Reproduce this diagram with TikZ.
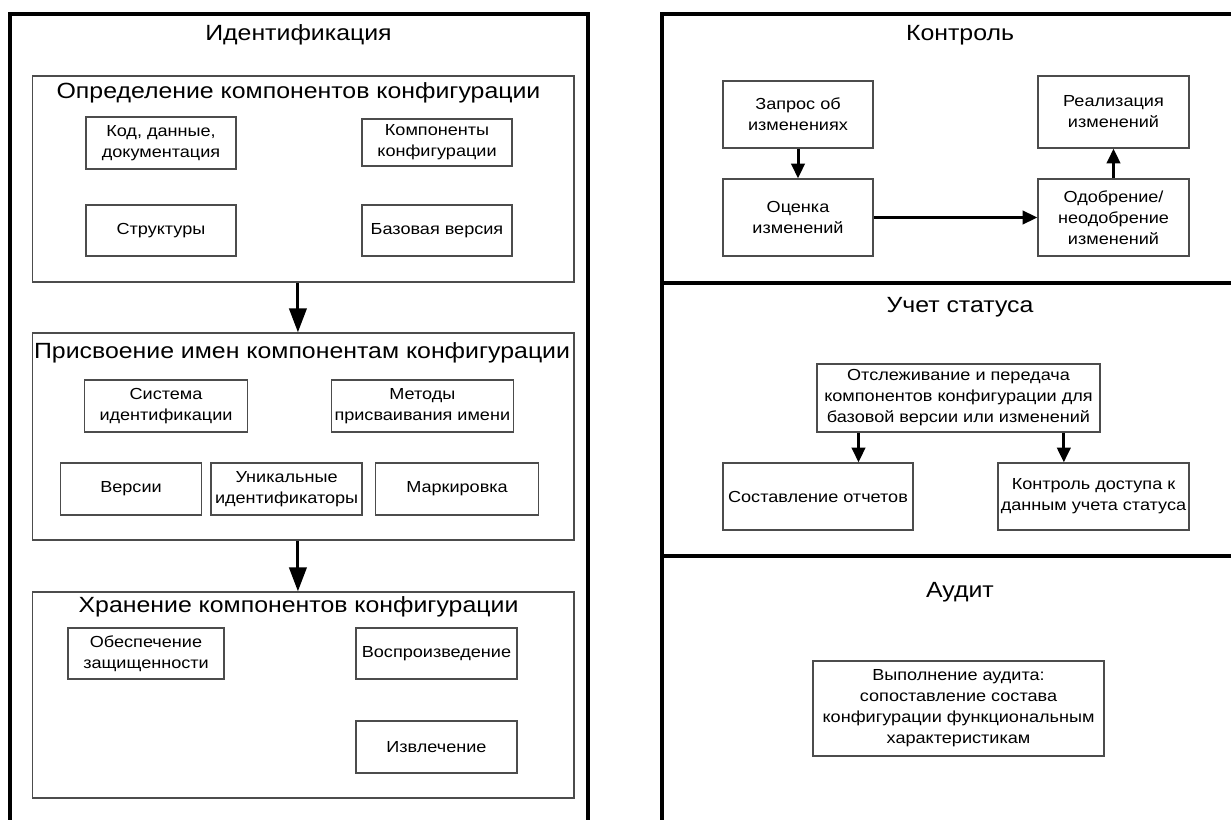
\documentclass[tikz,border=0pt]{standalone}
\usepackage{fontspec}
\setmainfont{Liberation Sans}[FakeStretch=1.13]
\usetikzlibrary{arrows.meta}

\begin{document}
\begin{tikzpicture}[x=0.75pt,y=0.75pt,yscale=-1,xscale=1,
	frame/.style={line width=2.5pt},
	group/.style={draw=black!70,line width=1pt,minimum width=406pt,minimum height=154.5pt},
	box/.style={draw=black!70,line width=1pt,align=center,inner sep=1pt,font=\fontsize{12}{15.75}\selectfont},
	head/.style={inner sep=0.75pt,font=\fontsize{16.5}{20}\selectfont},
	bigarrow/.style={line width=2.25pt,-{Triangle[length=18pt,width=13pt]}},
	arrow/.style={line width=2.25pt,-{Triangle[length=11pt,width=10pt]}}]
\useasboundingbox (0,0) rectangle (1231,820);

%Shape: Frames
	\draw [frame] (10,820) -- (10,14) -- (588,14) -- (588,820) ;
	\draw [frame] (662,820) -- (662,14) -- (1231,14) ;
	\draw [frame] (662,283) -- (1231,283) ;
	\draw [frame] (662,556) -- (1231,556) ;

% Identification
	\node [head] (ident) at (298.5,35) {Идентификация};
	\node [group] (defbox) at (303.25,179) {};
	\node [head] (deftitle) at (298.5,93) {Определение компонентов конфигурации};
	\node [box,minimum width=112.5pt,minimum height=39pt] (code) at (161,143) {Код, данные,\\документация};
	\node [box,minimum width=112.5pt,minimum height=35.25pt] (items) at (437,142.5) {Компоненты\\конфигурации};
	\node [box,minimum width=112.5pt,minimum height=38.25pt] (struct) at (161,230.5) {Структуры};
	\node [box,minimum width=112.5pt,minimum height=38.25pt] (baseline) at (437,230.5) {Базовая версия};

	\node [group,minimum height=155.25pt] (namebox) at (303.25,436.5) {};
	\node [head] (nametitle) at (302,353) {Присвоение имен компонентам конфигурации};
	\node [box,minimum width=122.25pt,minimum height=39pt] (idsys) at (166,406) {Система\\идентификации};
	\node [box,minimum width=136.5pt,minimum height=39pt] (naming) at (422.3,406) {Методы\\присваивания имени};
	\node [box,minimum width=105.75pt,minimum height=39pt] (versions) at (131,489) {Версии};
	\node [box,minimum width=113.25pt,minimum height=39pt] (uids) at (286.6,489) {Уникальные\\идентификаторы};
	\node [box,minimum width=122.25pt,minimum height=39pt] (marking) at (457,489) {Маркировка};

	\node [group] (storebox) at (303.25,695) {};
	\node [head] (storetitle) at (298.5,607) {Хранение компонентов конфигурации};
	\node [box,minimum width=117pt,minimum height=38.25pt] (security) at (146,653.5) {Обеспечение\\защищенности};
	\node [box,minimum width=120.75pt,minimum height=38.25pt] (repro) at (436.5,653.5) {Воспроизведение};
	\node [box,minimum width=120.75pt,minimum height=39pt] (retrieve) at (436.5,747) {Извлечение};

	\draw [bigarrow] ([xshift=-4pt]defbox.south) -- ([xshift=-4pt]defbox.south |- namebox.north) ;
	\draw [bigarrow] ([xshift=-4pt]namebox.south) -- ([xshift=-4pt]namebox.south |- storebox.north) ;

% Control
	\node [head] (control) at (960,35) {Контроль};
	\node [box,minimum width=112.5pt,minimum height=50.25pt] (request) at (798,114.5) {Запрос об\\изменениях};
	\node [box,minimum width=113.25pt,minimum height=54pt] (implement) at (1113.5,112) {Реализация\\изменений};
	\node [box,minimum width=112.5pt,minimum height=57.75pt] (assess) at (798,217.5) {Оценка\\изменений};
	\node [box,minimum width=113.25pt,minimum height=57.75pt] (approve) at (1113.5,217.5) {Одобрение/\\неодобрение\\изменений};
	\draw [arrow] (request) -- (assess) ;
	\draw [arrow] (assess) -- (approve) ;
	\draw [arrow] (approve) -- (implement) ;

% Status accounting
	\node [head] (status) at (960,307) {Учет статуса};
	\node [box,minimum width=212.25pt,minimum height=51pt] (track) at (958.5,398) {Отслеживание и передача\\компонентов конфигурации для\\базовой версии или изменений};
	\node [box,minimum width=142.5pt,minimum height=50.25pt] (reports) at (818,496.5) {Составление отчетов};
	\node [box,minimum width=143.25pt,minimum height=50.25pt] (access) at (1093.5,496.5) {Контроль доступа к\\данным учета статуса};
	\draw [arrow] ([xshift=-75pt]track.south) -- ([xshift=-75pt]track.south |- reports.north) ;
	\draw [arrow] ([xshift=79pt]track.south) -- ([xshift=79pt]track.south |- access.north) ;

% Audit
	\node [head] (audit) at (960,592) {Аудит};
	\node [box,minimum width=218.25pt,minimum height=71.25pt] (perform) at (958.5,708.5) {Выполнение аудита:\\сопоставление состава\\конфигурации функциональным\\характеристикам};

\end{tikzpicture}
\end{document}
